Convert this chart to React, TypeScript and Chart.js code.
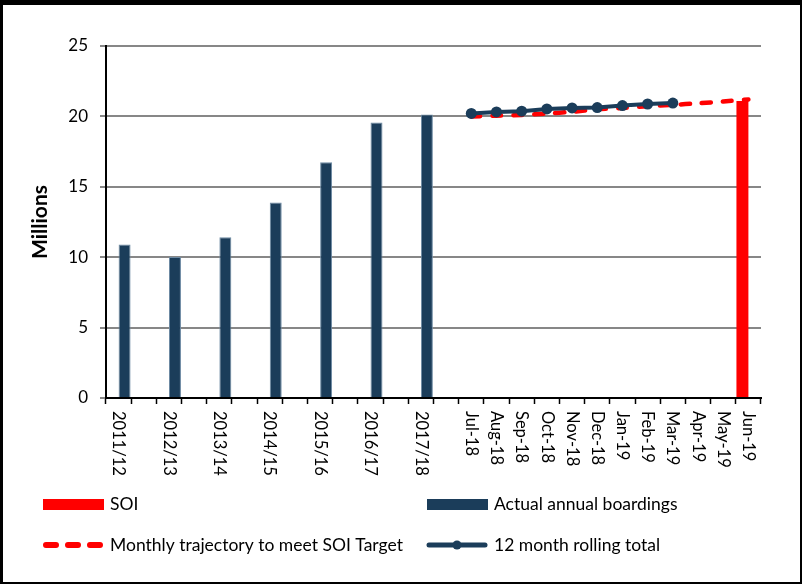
import React, { useEffect, useRef } from 'react';
import { Chart, registerables } from 'chart.js';

Chart.register(...registerables);

const annualLabels = ['2011/12', '2012/13', '2013/14', '2014/15', '2015/16', '2016/17', '2017/18'];
const annualBoardings = [10.9, 10.02, 11.42, 13.89, 16.75, 19.57, 20.14];
const monthLabels = ['Jul-18', 'Aug-18', 'Sep-18', 'Oct-18', 'Nov-18', 'Dec-18', 'Jan-19', 'Feb-19', 'Mar-19', 'Apr-19', 'May-19', 'Jun-19'];
const soiTarget = 21.1;
const trajectory = [20.0, 20.05, 20.1, 20.2, 20.33, 20.5, 20.6, 20.72, 20.82, 20.93, 21.06, 21.2];
const rollingTotal = [20.21, 20.32, 20.37, 20.53, 20.6, 20.63, 20.77, 20.88, 20.95];
const yMin = 0;
const yMax = 25;
const yStep = 5;
const yTitle = 'Millions';
const seriesNames = ['SOI', 'Actual annual boardings', 'Monthly trajectory to meet SOI Target', '12 month rolling total'];

const NAVY = '#1b3d5a';
const RED = '#ff0000';
const FONT = "Lato, 'Open Sans', 'Liberation Sans', sans-serif";

const categories: string[] = annualLabels.flatMap((l) => [l, '']).concat(monthLabels);
const nAnnualSlots = annualLabels.length * 2;
const actualData = categories.map((_, i) => (i < nAnnualSlots && i % 2 === 0 ? annualBoardings[i / 2] : null));
const soiData = categories.map((_, i) => (i === categories.length - 1 ? soiTarget : null));
const trajData = categories.map((_, i) => (i >= nAnnualSlots ? trajectory[i - nAnnualSlots] : null));
const rollData = categories.map((_, i) =>
  i >= nAnnualSlots && i - nAnnualSlots < rollingTotal.length ? rollingTotal[i - nAnnualSlots] : null
);

const customDraw = {
  id: 'customDraw',
  afterDraw(chart: any) {
    const ctx = chart.ctx as CanvasRenderingContext2D;
    const xs = chart.scales.x;
    const area = chart.chartArea;
    ctx.save();
    // x labels rotated clockwise
    ctx.fillStyle = '#000';
    ctx.font = `16.5px ${FONT}`;
    ctx.textAlign = 'left';
    ctx.textBaseline = 'middle';
    categories.forEach((lab, i) => {
      if (!lab) return;
      const x = xs.getPixelForValue(i);
      ctx.save();
      ctx.translate(x, area.bottom + 13);
      ctx.rotate(Math.PI / 2);
      ctx.fillText(lab, 0, 0);
      ctx.restore();
    });
    // y title
    ctx.save();
    ctx.font = `bold 21px ${FONT}`;
    ctx.textAlign = 'center';
    ctx.textBaseline = 'middle';
    ctx.translate(40, (area.top + area.bottom) / 2);
    ctx.rotate(-Math.PI / 2);
    ctx.fillText(yTitle, 0, 0);
    ctx.restore();
    // legend
    const ds = chart.data.datasets;
    const cols = [43, 427];
    const rows = [504, 545];
    const items = [0, 1, 2, 3];
    ctx.font = `17.5px ${FONT}`;
    ctx.textAlign = 'left';
    ctx.textBaseline = 'middle';
    items.forEach((di, k) => {
      const x0 = cols[k % 2];
      const y0 = rows[Math.floor(k / 2)];
      const d = ds[di];
      const w = 60;
      if (d.type === 'bar') {
        ctx.fillStyle = d.backgroundColor;
        ctx.fillRect(x0, y0 - 5, w + 1, 11);
      } else if (d.borderDash) {
        ctx.strokeStyle = d.borderColor;
        ctx.lineWidth = 6;
        ctx.lineCap = 'round';
        ctx.setLineDash([10, 12]);
        ctx.beginPath();
        ctx.moveTo(x0 + 3, y0);
        ctx.lineTo(x0 + w, y0);
        ctx.stroke();
        ctx.setLineDash([]);
      } else {
        ctx.strokeStyle = d.borderColor;
        ctx.lineWidth = 5;
        ctx.lineCap = 'round';
        ctx.beginPath();
        ctx.moveTo(x0 + 2, y0);
        ctx.lineTo(x0 + w - 2, y0);
        ctx.stroke();
        ctx.fillStyle = d.borderColor;
        ctx.beginPath();
        ctx.arc(x0 + w / 2, y0, 4.5, 0, Math.PI * 2);
        ctx.fill();
      }
      ctx.fillStyle = '#000';
      ctx.fillText(d.label, x0 + 67, y0);
    });
    // frame
    ctx.fillStyle = '#000';
    ctx.fillRect(0, 0, chart.width, 5);
    ctx.fillRect(0, 0, 3, chart.height);
    ctx.fillRect(chart.width - 2, 0, 2, chart.height);
    ctx.fillRect(0, chart.height - 2, chart.width, 2);
    ctx.restore();
  },
};

export default function App() {
  const ref = useRef<HTMLCanvasElement | null>(null);
  useEffect(() => {
    document.body.style.margin = '0';
    const canvas = ref.current;
    if (!canvas) return;
    const chart = new Chart(canvas, {
      type: 'bar',
      data: {
        labels: categories,
        datasets: [
          {
            type: 'bar',
            label: seriesNames[0],
            data: soiData,
            backgroundColor: RED,
            order: 2,
            categoryPercentage: 0.95,
            barPercentage: 1,
          } as any,
          {
            type: 'bar',
            label: seriesNames[1],
            data: actualData,
            backgroundColor: NAVY,
            borderColor: '#6d8aa3',
            borderWidth: 1,
            order: 3,
            categoryPercentage: 0.95,
            barPercentage: 1,
          } as any,
          {
            type: 'line',
            label: seriesNames[2],
            data: trajData,
            borderColor: RED,
            backgroundColor: RED,
            borderWidth: 4.5,
            borderDash: [9, 12],
            borderCapStyle: 'round',
            pointRadius: 0,
            tension: 0.3,
            fill: false,
            order: 1,
          } as any,
          {
            type: 'line',
            label: seriesNames[3],
            data: rollData,
            borderColor: NAVY,
            backgroundColor: NAVY,
            borderWidth: 4,
            pointRadius: 5.5,
            pointBackgroundColor: NAVY,
            pointBorderWidth: 0,
            tension: 0,
            fill: false,
            order: 0,
          } as any,
        ],
      },
      options: {
        responsive: false,
        animation: false,
        layout: { padding: { left: 0, right: 41, top: 46, bottom: 0 } },
        plugins: { legend: { display: false }, tooltip: { enabled: false } },
        scales: {
          x: {
            offset: true,
            grid: { offset: true, drawOnChartArea: false, drawTicks: true, tickLength: 6, tickColor: '#000', tickWidth: 1.5 },
            border: { color: '#000', width: 2 },
            ticks: { display: false, autoSkip: false },
            afterFit: (s: any) => {
              s.height = 186;
            },
          },
          y: {
            min: yMin,
            max: yMax,
            ticks: { stepSize: yStep, padding: 12, color: '#000', font: { size: 17, family: FONT } },
            grid: { color: '#878787', lineWidth: 2, tickLength: 6, tickColor: '#878787' },
            border: { color: '#000', width: 2 },
            afterFit: (s: any) => {
              s.width = 106;
            },
          },
        },
      },
      plugins: [customDraw],
    });
    return () => chart.destroy();
  }, []);
  return (
    <div style={{ width: 802, height: 584, background: '#fff' }}>
      <canvas ref={ref} width={802} height={584} style={{ display: 'block', width: 802, height: 584 }} />
    </div>
  );
}
